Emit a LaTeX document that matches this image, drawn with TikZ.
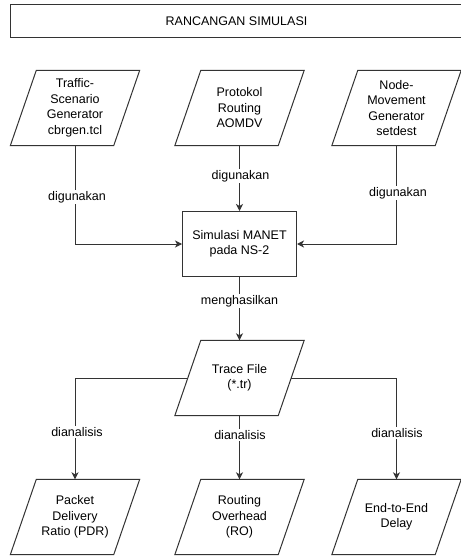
\documentclass[tikz,border=0pt]{standalone}
\usepackage{fontspec}
\setmainfont{Liberation Sans}
\usetikzlibrary{arrows.meta}
\definecolor{linec}{HTML}{333333}
\tikzset{
  base/.style={font=\fontsize{12.5}{15.5}\selectfont, text=black, align=center},
  para/.style={base, minimum width=129pt, minimum height=75pt, inner sep=0pt},
  simbox/.style={base, draw=linec, line width=1pt, minimum width=114pt, minimum height=65pt, inner sep=2pt},
  titlebox/.style={base, draw=linec, line width=1pt, minimum width=453pt, minimum height=33pt},
  lbl/.style={base, fill=white, inner sep=1pt},
  conn/.style={draw=linec, line width=1pt, -{Stealth[length=7pt,width=7pt,inset=2pt]}},
  paraline/.style={draw=linec, line width=1pt, line join=miter}
}
\newcommand{\drawpara}[1]{%
  \draw[paraline] ([xshift=26pt]#1.north west) -- (#1.north east) -- ([xshift=-26pt]#1.south east) -- (#1.south west) -- cycle;}
\begin{document}
\begin{tikzpicture}[x=1pt,y=-1pt]
\useasboundingbox[fill=white] (0,0) rectangle (460,556);

\node[titlebox] (title) at (236.5,21.5) {RANCANGAN SIMULASI};

\node[para] (p1) at (75,108) {Traffic-\\Scenario\\Generator\\cbrgen.tcl};
\node[para] (p2) at (239.5,108) {Protokol\\Routing\\AOMDV};
\node[para] (p3) at (396.5,108) {Node-\\Movement\\Generator\\setdest};

\node[simbox] (sim) at (239.5,244) {Simulasi MANET\\pada NS-2};

\node[para] (tr) at (239.5,378) {Trace File\\(*.tr)};

\node[para] (o1) at (75,517) {Packet\\Delivery\\Ratio (PDR)};
\node[para] (o2) at (239.5,517) {Routing\\Overhead\\(RO)};
\node[para] (o3) at (396.5,517) {End-to-End\\Delay};

\drawpara{p1}\drawpara{p2}\drawpara{p3}
\drawpara{tr}
\drawpara{o1}\drawpara{o2}\drawpara{o3}

\draw[conn] (p1.south) |- (sim.west);
\draw[conn] (p2.south) -- (sim.north);
\draw[conn] (p3.south) |- (sim.east);
\draw[conn] (sim.south) -- (tr.north);
\draw[conn] ([xshift=13pt]tr.west) -| (o1.north);
\draw[conn] (tr.south) -- (o2.north);
\draw[conn] ([xshift=-13pt]tr.east) -| (o3.north);

\node[lbl] (l1) at (77,197) {digunakan};
\node[lbl] (l2) at (240.5,176) {digunakan};
\node[lbl] (l3) at (398,193) {digunakan};
\node[lbl] (l4) at (239.5,301) {menghasilkan};
\node[lbl] (l5) at (77,432) {dianalisis};
\node[lbl] (l6) at (240,435) {dianalisis};
\node[lbl] (l7) at (397,433) {dianalisis};
\end{tikzpicture}
\end{document}
